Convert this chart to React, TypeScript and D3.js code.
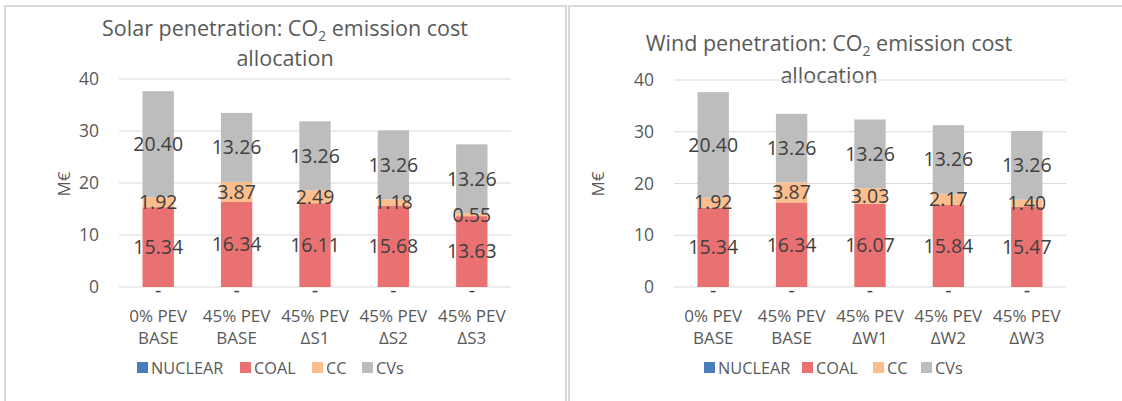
import React from "react";
import * as d3 from "d3";

const seriesNames = ["NUCLEAR", "COAL", "CC", "CVs"];
const seriesColors = ["#4A7EBB", "#E97171", "#FBBE8C", "#BDBDBD"];
const yTicks = [0, 10, 20, 30, 40];

const solarCategories = [["0% PEV", "BASE"], ["45% PEV", "BASE"], ["45% PEV", "ΔS1"], ["45% PEV", "ΔS2"], ["45% PEV", "ΔS3"]];
const solarNuclear = [0, 0, 0, 0, 0];
const solarCoal = [15.34, 16.34, 16.11, 15.68, 13.63];
const solarCC = [1.92, 3.87, 2.49, 1.18, 0.55];
const solarCVs = [20.40, 13.26, 13.26, 13.26, 13.26];

const windCategories = [["0% PEV", "BASE"], ["45% PEV", "BASE"], ["45% PEV", "ΔW1"], ["45% PEV", "ΔW2"], ["45% PEV", "ΔW3"]];
const windNuclear = [0, 0, 0, 0, 0];
const windCoal = [15.34, 16.34, 16.07, 15.84, 15.47];
const windCC = [1.92, 3.87, 3.03, 2.17, 1.40];
const windCVs = [20.40, 13.26, 13.26, 13.26, 13.26];

const FONT = "'Open Sans', sans-serif";

type PanelProps = {
  titleLead: string;
  categories: string[][];
  series: number[][];
  frame: { x: number; y: number; w: number; h: number };
  plot: { x0: number; x1: number; y0: number; y40: number };
  title: { cx: number; y1: number; y2: number };
  tickRight: number;
  yLabel: { x: number; y: number };
  legendX: number[];
};

function Panel(p: PanelProps) {
  const x = d3
    .scaleBand<number>()
    .domain(d3.range(p.categories.length))
    .range([p.plot.x0, p.plot.x1])
    .paddingInner(0.6)
    .paddingOuter(0.3);
  const y = d3.scaleLinear().domain([0, 40]).range([p.plot.y0, p.plot.y40]);
  const stack = d3
    .stack<number>()
    .keys(d3.range(p.series.length).map(String))
    .value((i, k) => p.series[+k][i]);
  const stacked = stack(d3.range(p.categories.length));

  return (
    <g>
      <rect x={p.frame.x} y={p.frame.y} width={p.frame.w} height={p.frame.h} fill="#fff" stroke="#D9D9D9" strokeWidth={2} />
      <text x={p.title.cx} y={p.title.y1} textAnchor="middle" fontFamily={FONT} fontSize={21.5} fill="#595959">
        {p.titleLead}: CO<tspan fontSize={14} dy={5}>2</tspan>
        <tspan dy={-5}> emission cost</tspan>
      </text>
      <text x={p.title.cx} y={p.title.y2} textAnchor="middle" fontFamily={FONT} fontSize={21.5} fill="#595959">
        allocation
      </text>
      {yTicks.map((t) => (
        <g key={t}>
          <line x1={p.plot.x0} x2={p.plot.x1} y1={y(t)} y2={y(t)} stroke="#D9D9D9" strokeWidth={1.2} />
          <text x={p.tickRight} y={y(t)} dy="0.35em" textAnchor="end" fontFamily={FONT} fontSize={17.5} fill="#595959">
            {t}
          </text>
        </g>
      ))}
      <text
        transform={`translate(${p.yLabel.x},${p.yLabel.y}) rotate(-90)`}
        textAnchor="middle"
        dy="0.35em"
        fontFamily={FONT}
        fontSize={17}
        fill="#595959"
      >
        M€
      </text>
      {stacked.map((layer, si) =>
        layer.map((d, i) => (
          <rect
            key={`${si}-${i}`}
            x={x(i)}
            width={x.bandwidth()}
            y={y(d[1])}
            height={Math.max(0, y(d[0]) - y(d[1]))}
            fill={seriesColors[si]}
          />
        ))
      )}
      {stacked.map((layer, si) =>
        layer.map((d, i) => {
          const v = p.series[si][i];
          const cx = (x(i) as number) + x.bandwidth() / 2;
          const cy = y((d[0] + d[1]) / 2);
          return (
            <text
              key={`l${si}-${i}`}
              x={cx}
              y={v === 0 ? cy + 3 : cy}
              dy="0.35em"
              textAnchor="middle"
              fontFamily={FONT}
              fontSize={19.5}
              fill="#404040"
            >
              {v === 0 ? "-" : v.toFixed(2)}
            </text>
          );
        })
      )}
      {p.categories.map((c, i) => (
        <text key={`c${i}`} textAnchor="middle" fontFamily={FONT} fontSize={17} fill="#595959">
          {c.map((line, li) => (
            <tspan key={li} x={(x(i) as number) + x.bandwidth() / 2} y={322 + li * 22}>
              {line}
            </tspan>
          ))}
        </text>
      ))}
      {seriesNames.map((n, i) => (
        <g key={n}>
          <rect x={p.legendX[i]} y={362} width={11} height={11} fill={seriesColors[i]} />
          <text x={p.legendX[i] + 14} y={368} dy="0.35em" fontFamily={FONT} fontSize={16.3} fill="#595959">
            {n}
          </text>
        </g>
      ))}
    </g>
  );
}

export default function App() {
  return (
    <svg width={1122} height={401} style={{ position: "absolute", left: 0, top: 0, background: "#fff" }}>
      <Panel
        titleLead="Solar penetration"
        categories={solarCategories}
        series={[solarNuclear, solarCoal, solarCC, solarCVs]}
        frame={{ x: 5, y: 6, w: 561, h: 420 }}
        plot={{ x0: 119, x1: 511, y0: 287, y40: 79 }}
        title={{ cx: 285, y1: 36, y2: 66 }}
        tickRight={99}
        yLabel={{ x: 64, y: 184 }}
        legendX={[137, 240, 312, 362]}
      />
      <Panel
        titleLead="Wind penetration"
        categories={windCategories}
        series={[windNuclear, windCoal, windCC, windCVs]}
        frame={{ x: 569, y: 6, w: 600, h: 420 }}
        plot={{ x0: 674, x1: 1066, y0: 287, y40: 80 }}
        title={{ cx: 829, y1: 51, y2: 83 }}
        tickRight={654}
        yLabel={{ x: 598, y: 184 }}
        legendX={[704, 802, 873, 921]}
      />
    </svg>
  );
}
